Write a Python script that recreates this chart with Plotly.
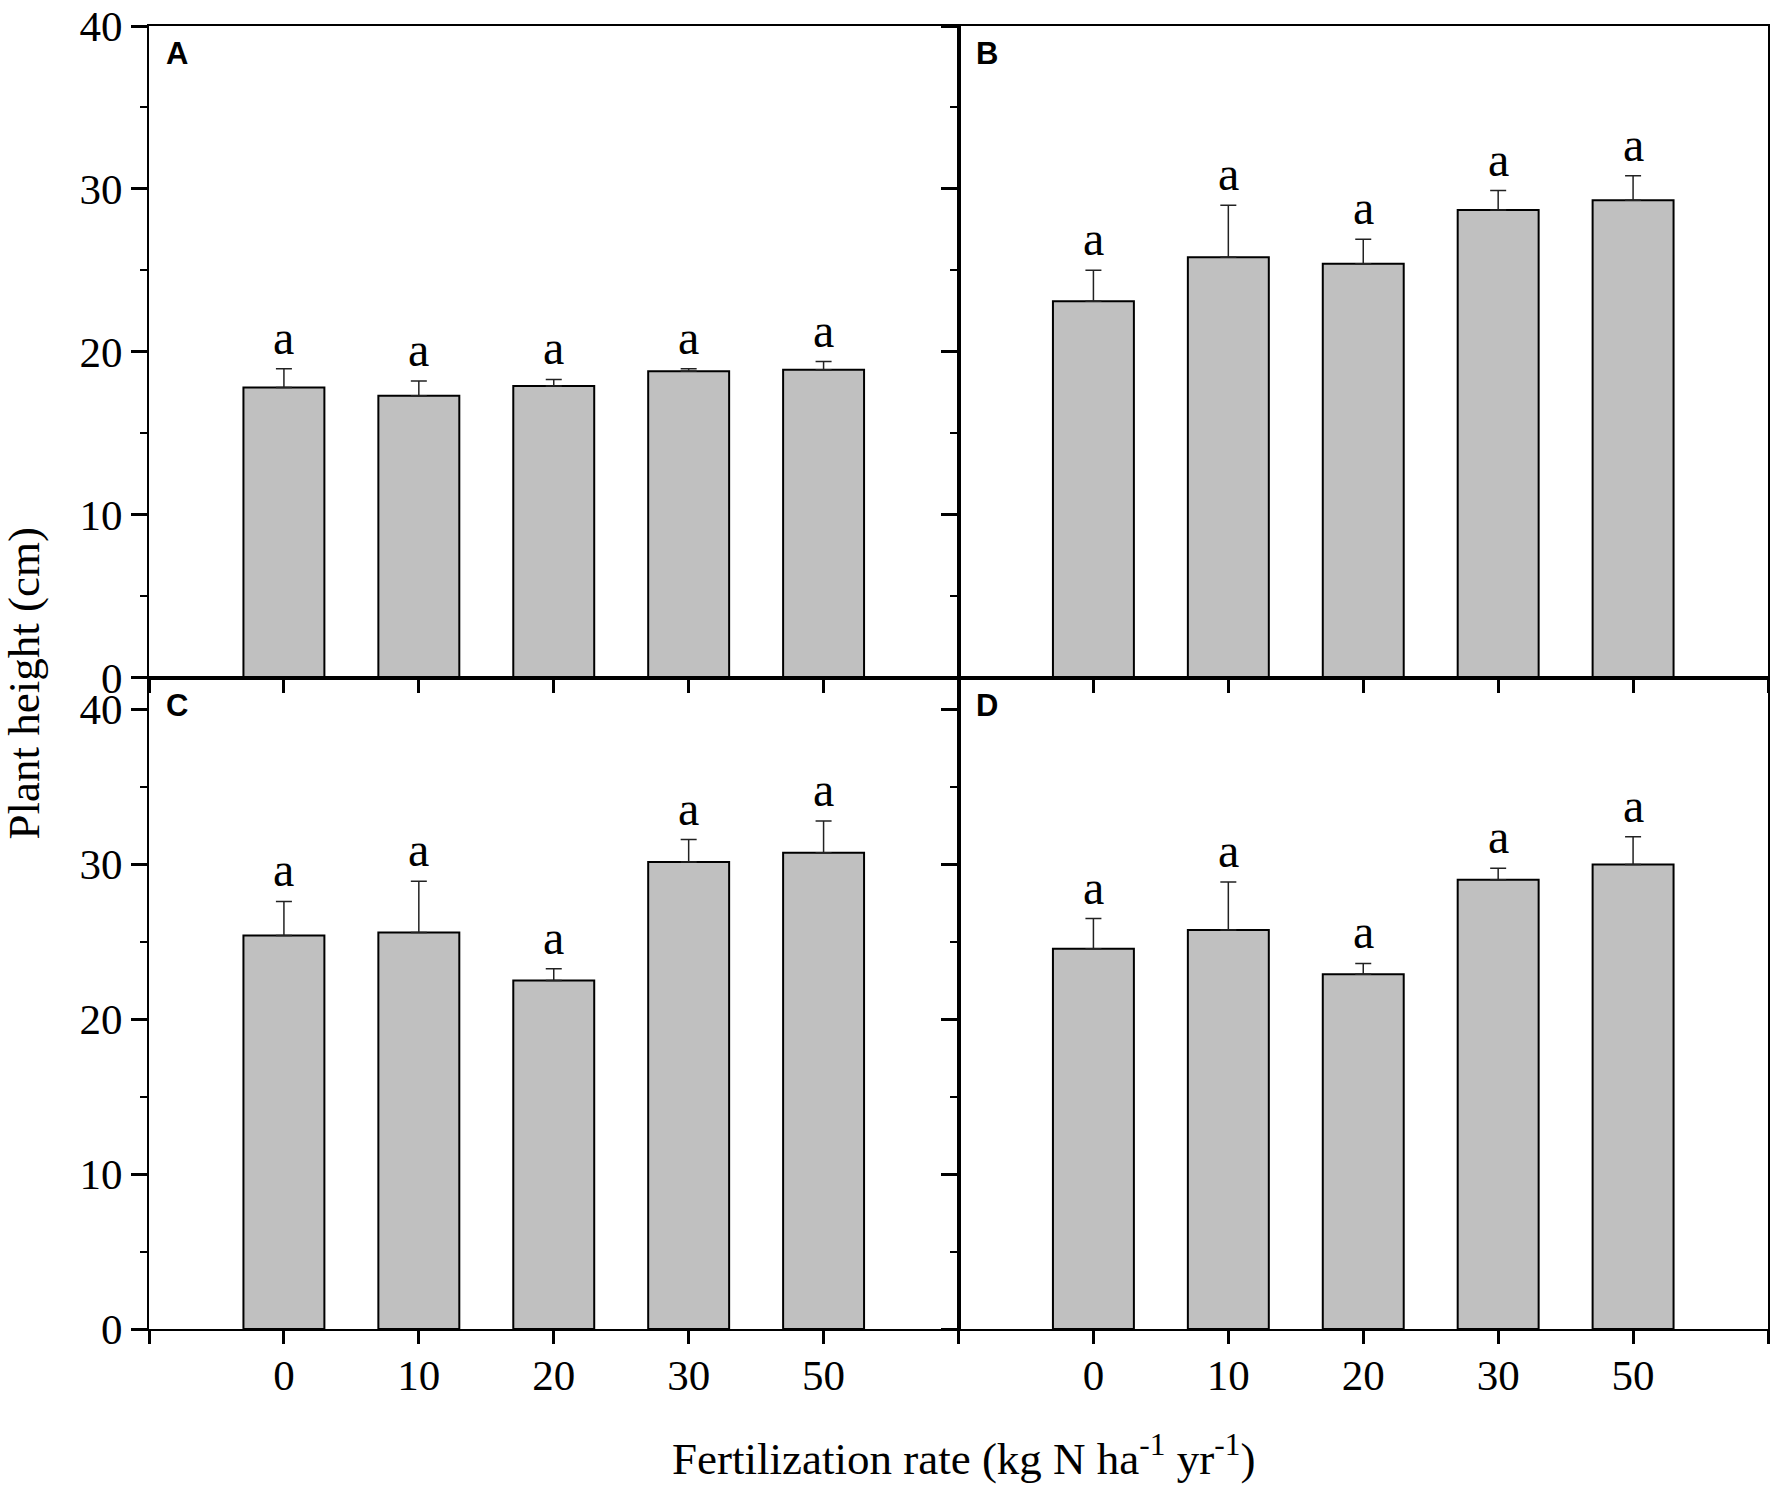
import plotly.graph_objects as go
from plotly.subplots import make_subplots

# fertilization rates (kg N ha-1 yr-1)
rates = ["0", "10", "20", "30", "50"]
xpos = [0, 1, 2, 3, 4]

# plant height (cm), mean and SE
a_mean = [17.8, 17.3, 17.9, 18.8, 18.9]
a_err = [1.16, 0.9, 0.4, 0.16, 0.5]
b_mean = [23.1, 25.8, 25.4, 28.7, 29.3]
b_err = [1.9, 3.2, 1.5, 1.2, 1.5]
c_mean = [25.4, 25.6, 22.5, 30.15, 30.75]
c_err = [2.2, 3.3, 0.75, 1.45, 2.05]
d_mean = [24.55, 25.76, 22.9, 29.0, 29.98]
d_err = [1.95, 3.1, 0.7, 0.75, 1.8]

letters = ["a", "a", "a", "a", "a"]
panel_names = ["A", "B", "C", "D"]

SERIF = "Liberation Serif"
SANS = "Liberation Sans"

panels = [
    (1, 1, a_mean, a_err),
    (1, 2, b_mean, b_err),
    (2, 1, c_mean, c_err),
    (2, 2, d_mean, d_err),
]

fig = make_subplots(rows=2, cols=2, horizontal_spacing=0, vertical_spacing=0)

for k, (r, c, mean, err) in enumerate(panels):
    fig.add_trace(go.Bar(x=xpos, y=mean, width=0.6,
                         marker=dict(color="#c0c0c0",
                                     line=dict(color="black", width=2)),
                         error_y=dict(type="data", array=err,
                                      arrayminus=[0] * len(err),
                                      symmetric=False, color="#222222",
                                      thickness=1.5, width=8),
                         showlegend=False),
                  row=r, col=c)
    axn = "" if k == 0 else str(k + 1)
    for i in range(len(mean)):
        fig.add_annotation(x=xpos[i], y=mean[i] + err[i], text=letters[i],
                           xref="x" + axn, yref="y" + axn,
                           xanchor="center", yanchor="bottom", yshift=3,
                           showarrow=False,
                           font=dict(family=SERIF, size=48, color="black"))
    fig.add_annotation(x=0, y=1, xref="x" + axn + " domain",
                       yref="y" + axn + " domain", text="<b>" + panel_names[k] + "</b>",
                       xanchor="left", yanchor="top", xshift=15, yshift=-8,
                       showarrow=False,
                       font=dict(family=SANS, size=31, color="black"))

for r in (1, 2):
    yr = [0, 40] if r == 1 else [0, 42.06]
    for c in (1, 2):
        fig.update_xaxes(range=[-1, 5], tickmode="array",
                         tickvals=[-1, 0, 1, 2, 3, 4, 5],
                         ticktext=[""] + rates + [""],
                         showticklabels=(r == 2), automargin=False,
                         ticks="outside", ticklen=13, tickwidth=2.5,
                         tickcolor="black", ticklabelstandoff=-6,
                         showline=True, linecolor="black", linewidth=2,
                         mirror=True, showgrid=False, zeroline=False,
                         tickfont=dict(family=SERIF, size=43, color="black"),
                         row=r, col=c)
        fig.update_yaxes(range=yr, tickmode="linear", tick0=0, dtick=10,
                         showticklabels=(c == 1), automargin=False,
                         ticks="outside", ticklen=16, tickwidth=2.5,
                         tickcolor="black",
                         minor=dict(ticks="outside", ticklen=7, dtick=5,
                                    tickwidth=2, tickcolor="black"),
                         showline=True, linecolor="black", linewidth=2,
                         mirror=True, showgrid=False, zeroline=False,
                         tickfont=dict(family=SERIF, size=43, color="black"),
                         row=r, col=c)

fig.add_annotation(x=-0.0775, y=0.495, xref="paper", yref="paper",
                   text="Plant height (cm)", textangle=-90,
                   xanchor="center", yanchor="middle", showarrow=False,
                   font=dict(family=SERIF, size=45, color="black"))
fig.add_annotation(x=0.5036, y=-0.097, xref="paper", yref="paper",
                   text="Fertilization rate (kg N ha<sup>-1</sup> yr<sup>-1</sup>)",
                   xanchor="center", yanchor="middle", showarrow=False,
                   font=dict(family=SERIF, size=45, color="black"))

fig.update_layout(width=1775, height=1487,
                  margin=dict(l=148.5, r=7, t=26, b=158, autoexpand=False),
                  plot_bgcolor="white", paper_bgcolor="white",
                  bargap=0.4)

# drop the default 8px page margin so the figure sits at the window corner
fig.write_html("out.html", config={"displayModeBar": False},
               post_script="document.body.style.margin='0px';")
